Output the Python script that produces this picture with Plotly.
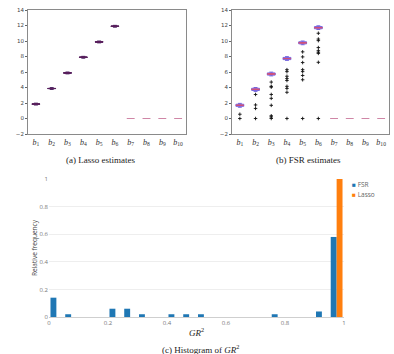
import plotly.graph_objects as go

# ---------------- data ----------------
coef_labels = ["<i>b</i><sub>%d</sub>" % i for i in range(1, 11)]

lasso_median = [1.86, 3.87, 5.88, 7.9, 9.88, 11.9, 0, 0, 0, 0]
lasso_q1 = [1.84, 3.85, 5.86, 7.88, 9.86, 11.88, 0, 0, 0, 0]
lasso_q3 = [1.88, 3.89, 5.9, 7.92, 9.9, 11.92, 0, 0, 0, 0]
lasso_low = [1.74, 3.75, 5.76, 7.78, 9.76, 11.78, 0, 0, 0, 0]
lasso_high = [1.98, 3.99, 6.0, 8.02, 10.0, 12.02, 0, 0, 0, 0]

fsr_median = [1.7, 3.76, 5.75, 7.74, 9.77, 11.72, 0, 0, 0, 0]
fsr_q1 = [1.57, 3.62, 5.6, 7.6, 9.63, 11.58, 0, 0, 0, 0]
fsr_q3 = [1.84, 3.9, 5.88, 7.88, 9.9, 11.86, 0, 0, 0, 0]
fsr_low = [1.45, 3.5, 5.5, 7.5, 9.52, 11.48, 0, 0, 0, 0]
fsr_high = [1.95, 4.0, 5.98, 7.98, 10.0, 11.96, 0, 0, 0, 0]

fsr_outliers = [
    [0.55, 0.0],
    [3.1, 1.75, 1.3, 0.0],
    [4.7, 4.15, 4.05, 3.1, 2.6, 1.7, 0.35, 0.2, 0.0],
    [6.3, 6.05, 5.45, 5.15, 4.9, 4.15, 3.88, 3.38, 0.0],
    [8.6, 7.95, 7.22, 6.3, 6.05, 5.55, 5.0, 0.0],
    [11.0, 10.25, 10.05, 9.15, 8.75, 8.55, 8.4, 7.25, 0.0],
    [], [], [], [],
]

gr2_bins = [0.025, 0.075, 0.225, 0.275, 0.325, 0.425, 0.475, 0.525, 0.775, 0.925, 0.975]
fsr_freq = [0.14, 0.02, 0.06, 0.06, 0.02, 0.02, 0.02, 0.02, 0.02, 0.04, 0.58]
lasso_bins = [0.975]
lasso_freq = [1.0]

y_ticks = [-2, 0, 2, 4, 6, 8, 10, 12, 14]
hist_ticks = [0, 0.2, 0.4, 0.6, 0.8, 1]
hist_ticktext = ["0", "0.2", "0.4", "0.6", "0.8", "1"]

FSR_COLOR = "#1f77b4"
LASSO_COLOR = "#ff7f0e"
SERIF = "Liberation Serif"

# ---------------- figure ----------------
W, H = 394, 354
fig = go.Figure()

def px_x(p):
    return p / W

def px_y(p):
    return 1 - p / H

nz = slice(0, 6)
zz = slice(6, 10)

def add_boxes(xa, ya, med, q1, q3, lo, hi, col, fill, medcol):
    fig.add_trace(go.Box(x=coef_labels[nz], median=med[nz], q1=q1[nz], q3=q3[nz],
                         lowerfence=lo[nz], upperfence=hi[nz], width=0.5,
                         line=dict(color=col, width=1), fillcolor=fill,
                         boxpoints=False, xaxis=xa, yaxis=ya, showlegend=False,
                         hoverinfo="skip"))
    fig.add_trace(go.Box(x=coef_labels[nz], median=med[nz], q1=med[nz], q3=med[nz],
                         lowerfence=med[nz], upperfence=med[nz], width=0.5,
                         line=dict(color=medcol, width=1), fillcolor="rgba(0,0,0,0)",
                         boxpoints=False, xaxis=xa, yaxis=ya, showlegend=False,
                         hoverinfo="skip"))
    fig.add_trace(go.Box(x=coef_labels[zz], median=med[zz], q1=q1[zz], q3=q3[zz],
                         lowerfence=lo[zz], upperfence=hi[zz], width=0.5,
                         line=dict(color="#cf86a6", width=1.2),
                         boxpoints=False, xaxis=xa, yaxis=ya, showlegend=False,
                         hoverinfo="skip"))

add_boxes("x", "y", lasso_median, lasso_q1, lasso_q3, lasso_low, lasso_high,
          "#4a2160", "#6b2f78", "#5a1f5c")
add_boxes("x2", "y2", fsr_median, fsr_q1, fsr_q3, fsr_low, fsr_high,
          "#7463de", "#f1dcf3", "#d0507a")

ox, oy = [], []
for lab, vals in zip(coef_labels, fsr_outliers):
    for v in vals:
        ox.append(lab)
        oy.append(v)
fig.add_trace(go.Scatter(x=ox, y=oy, mode="markers", xaxis="x2", yaxis="y2",
                         marker=dict(symbol="cross-thin", size=2.5,
                                     line=dict(color="#111", width=0.9)),
                         showlegend=False, hoverinfo="skip"))

fig.add_trace(go.Bar(x=gr2_bins, y=fsr_freq, name="FSR", marker_color=FSR_COLOR,
                     xaxis="x3", yaxis="y3", showlegend=False))
fig.add_trace(go.Bar(x=lasso_bins, y=lasso_freq, name="Lasso", marker_color=LASSO_COLOR,
                     xaxis="x3", yaxis="y3", showlegend=False))
# legend entries: small coloured square key drawn as text right before the name
for nm, c, lg in (("FSR", FSR_COLOR, "legend"), ("Lasso", LASSO_COLOR, "legend2")):
    fig.add_trace(go.Scatter(x=[None], y=[None], mode="markers",
                             name='<span style="color:%s">■</span> %s' % (c, nm),
                             marker=dict(size=1, color="rgba(0,0,0,0)"),
                             xaxis="x3", yaxis="y3", legend=lg))

box_x = dict(type="category", range=[-0.5, 9.5], showline=True, mirror=True,
             linecolor="#8a8a8a", linewidth=1, ticks="", showgrid=False,
             zeroline=False, automargin=False,
             tickfont=dict(family=SERIF, size=8, color="#333"))
box_y = dict(range=[-2, 14], tickvals=y_ticks, showline=True, mirror=True,
             linecolor="#8a8a8a", linewidth=1, ticks="outside", ticklen=2,
             tickcolor="#666", showgrid=False, zeroline=False, automargin=False,
             tickfont=dict(family="DejaVu Sans", size=5.5, color="#444"))

leg_common = dict(xanchor="left", yanchor="middle",
                  font=dict(family="Open Sans", size=6.5, color="#666"),
                  bgcolor="rgba(0,0,0,0)", itemwidth=30, borderwidth=0)

fig.update_layout(
    width=W, height=H, template="none",
    margin=dict(l=0, r=0, t=0, b=0),
    paper_bgcolor="white", plot_bgcolor="white",
    barmode="group", bargap=0.2, boxmode="overlay",
    xaxis=dict(domain=[px_x(28), px_x(186)], anchor="y", **box_x),
    yaxis=dict(domain=[px_y(134), px_y(10)], anchor="x", **box_y),
    xaxis2=dict(domain=[px_x(232), px_x(389)], anchor="y2", **box_x),
    yaxis2=dict(domain=[px_y(134), px_y(10)], anchor="x2", **box_y),
    xaxis3=dict(domain=[px_x(49), px_x(344)], anchor="y3", range=[0, 1],
                tickvals=hist_ticks, ticktext=hist_ticktext,
                showgrid=False, zeroline=False, showline=True, linecolor="#cfcfcf",
                linewidth=1, ticks="", automargin=False,
                tickfont=dict(family="Open Sans", size=6, color="#777"),
                title=dict(text="<i>GR</i><sup>2</sup>", standoff=3,
                           font=dict(family=SERIF, size=9, color="#222"))),
    yaxis3=dict(domain=[px_y(317), px_y(179)], anchor="x3", range=[0, 1.0],
                tickvals=hist_ticks, ticktext=hist_ticktext,
                showgrid=True, gridcolor="#eeeeee", zeroline=False, showline=False,
                ticks="", automargin=False,
                tickfont=dict(family="Open Sans", size=6, color="#777"),
                title=dict(text="Relative frequency", standoff=1,
                           font=dict(family="Open Sans", size=6.5, color="#444"))),
    legend=dict(x=px_x(312), y=px_y(184), **leg_common),
    legend2=dict(x=px_x(312), y=px_y(194), **leg_common),
    annotations=[
        dict(text="(a) Lasso estimates", x=px_x(100), y=px_y(160), xref="paper",
             yref="paper", showarrow=False, xanchor="center", yanchor="middle",
             font=dict(family=SERIF, size=9, color="#222")),
        dict(text="(b) FSR estimates", x=px_x(308), y=px_y(160), xref="paper",
             yref="paper", showarrow=False, xanchor="center", yanchor="middle",
             font=dict(family=SERIF, size=9, color="#222")),
        dict(text="(c) Histogram of <i>GR</i><sup>2</sup>", x=px_x(200), y=px_y(349),
             xref="paper", yref="paper", showarrow=False, xanchor="center",
             yanchor="middle", font=dict(family=SERIF, size=9, color="#222")),
    ],
)

fig.write_html("out.html")
